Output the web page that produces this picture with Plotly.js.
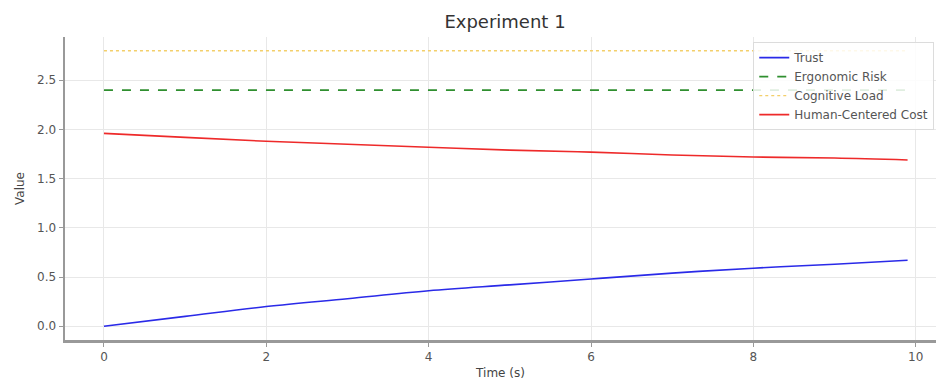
<!DOCTYPE html>
<html>
<head>
<meta charset="utf-8">
<script src="https://cdn.plot.ly/plotly-3.0.1.min.js"></script>
<style>html,body{margin:0;padding:0;background:#fff;}#chart{width:936px;height:383px;}</style>
</head>
<body>
<div id="chart"></div>
<script>
const time = [0, 1, 2, 3, 4, 5, 6, 7, 8, 9, 9.9];
const trust = [0.00, 0.10, 0.20, 0.28, 0.36, 0.42, 0.48, 0.54, 0.59, 0.63, 0.67];
const ergonomicRisk = [2.4, 2.4, 2.4, 2.4, 2.4, 2.4, 2.4, 2.4, 2.4, 2.4, 2.4];
const cognitiveLoad = [2.8, 2.8, 2.8, 2.8, 2.8, 2.8, 2.8, 2.8, 2.8, 2.8, 2.8];
const humanCost = [1.96, 1.92, 1.88, 1.85, 1.82, 1.79, 1.77, 1.74, 1.72, 1.71, 1.69];
const seriesNames = ["Trust", "Ergonomic Risk", "Cognitive Load", "Human-Centered Cost"];

const traces = [
  {x: time, y: trust, name: seriesNames[0], mode: "lines", line: {color: "#2a2ae8", width: 1.6, shape: "spline"}},
  {x: time, y: ergonomicRisk, name: seriesNames[1], mode: "lines", line: {color: "#2f8f2f", width: 1.8, dash: "dash"}},
  {x: time, y: cognitiveLoad, name: seriesNames[2], mode: "lines", line: {color: "#f3cf6a", width: 1.4, dash: "dot"}},
  {x: time, y: humanCost, name: seriesNames[3], mode: "lines", line: {color: "#ee2a2a", width: 1.6, shape: "spline"}}
];

const font = "DejaVu Sans, sans-serif";
const layout = {
  width: 936, height: 383,
  margin: {l: 65, r: 0, t: 37, b: 43},
  paper_bgcolor: "#ffffff", plot_bgcolor: "#ffffff",
  font: {family: font, color: "#444"},
  title: {text: "Experiment 1", font: {family: font, size: 18, color: "#333"},
          x: 505/936, xref: "container", xanchor: "center", y: 1 - 22/383, yref: "container", yanchor: "middle"},
  xaxis: {
    range: [-0.48, 10.25], tickvals: [0, 2, 4, 6, 8, 10], ticktext: ["0", "2", "4", "6", "8", "10"],
    showgrid: true, gridcolor: "#e8e8e8", gridwidth: 1, zeroline: false,
    showline: true, linecolor: "#999", linewidth: 2.5,
    ticks: "outside", ticklen: 4, tickcolor: "#999", tickwidth: 1,
    tickfont: {family: font, size: 12, color: "#555"},
    title: {text: "Time (s)", font: {family: font, size: 12, color: "#444"}, standoff: 6}
  },
  yaxis: {
    range: [-0.14, 2.94], tickvals: [0, 0.5, 1, 1.5, 2, 2.5], ticktext: ["0.0", "0.5", "1.0", "1.5", "2.0", "2.5"],
    showgrid: true, gridcolor: "#e8e8e8", gridwidth: 1, zeroline: false,
    showline: true, linecolor: "#999", linewidth: 2.5,
    ticks: "outside", ticklen: 4, tickcolor: "#999", tickwidth: 1,
    tickfont: {family: font, size: 12, color: "#555"},
    title: {text: "Value", font: {family: font, size: 12, color: "#444"}, standoff: 10}
  },
  legend: {
    x: 0.998, y: 0.983, xanchor: "right", yanchor: "top",
    bgcolor: "rgba(255,255,255,0.85)", bordercolor: "#dcdcdc", borderwidth: 1,
    font: {family: font, size: 12, color: "#555"}, tracegroupgap: 0
  },
  showlegend: true
};

Plotly.newPlot("chart", traces, layout, {displayModeBar: false, staticPlot: true});
</script>
</body>
</html>
